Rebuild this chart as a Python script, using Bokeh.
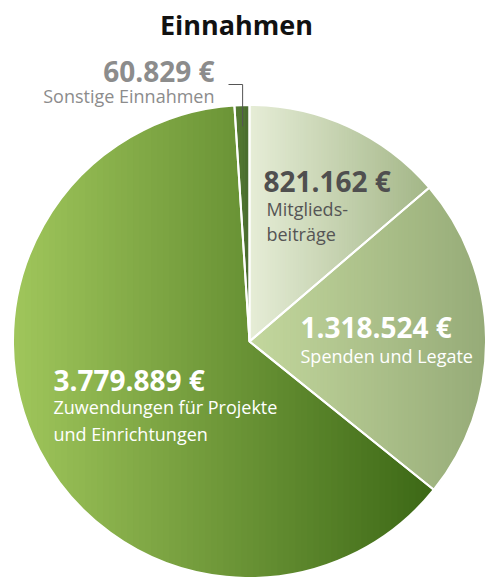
import numpy as np
from bokeh.plotting import figure
from bokeh.models import Range1d, Label
from bokeh.embed import file_html
from bokeh.resources import INLINE

# ---- data ----
title = "Einnahmen"
categories = ["Mitglieds-\nbeiträge", "Spenden und Legate",
              "Zuwendungen für Projekte\nund Einrichtungen", "Sonstige Einnahmen"]
values = [821162, 1318524, 3779889, 60829]
value_labels = ["821.162 €", "1.318.524 €", "3.779.889 €", "60.829 €"]
grad_left = ["#e6edd7", "#c3d79d", "#a0c65c", "#3d6a14"]
grad_right = ["#a3b687", "#96ab78", "#3c6815", "#2a510c"]

# ---- layout ----
W, H = 485, 577
R = 236.5            # pixels per data unit (pie radius = 1)
CX, CY = 249, 341    # pie centre in plot pixels
FONT = "Open Sans"
TY = -9              # text vertical adjustment

p = figure(width=W, height=H, output_backend="svg", toolbar_location=None,
           x_range=Range1d(-CX / R, (W - CX) / R),
           y_range=Range1d(-(H - CY) / R, CY / R),
           x_axis_location=None, y_axis_location=None,
           min_border=0, outline_line_color=None)
p.grid.visible = False


def pg(px, py):
    """picture pixel -> data coords"""
    return (px - CX) / R, (CY - py) / R


def hex2rgb(h):
    h = h.lstrip("#")
    return np.array([int(h[i:i + 2], 16) for i in (0, 2, 4)], dtype=float)


def mix(a, b, t):
    c = hex2rgb(a) * (1 - t) + hex2rgb(b) * t
    return "#%02x%02x%02x" % tuple(int(round(v)) for v in c)


def clip(poly, c, keep_greater):
    out = []
    n = len(poly)
    def keep(pt):
        return pt[0] >= c if keep_greater else pt[0] <= c
    def inter(a, b):
        t = (c - a[0]) / (b[0] - a[0])
        return (c, a[1] + t * (b[1] - a[1]))
    for j in range(n):
        cur, prev = poly[j], poly[j - 1]
        if keep(cur):
            if not keep(prev):
                out.append(inter(prev, cur))
            out.append(cur)
        elif keep(prev):
            out.append(inter(prev, cur))
    return out


total = float(sum(values))
frac = np.array(values) / total
cum = np.concatenate([[0.0], np.cumsum(frac)])
theta_hi = np.pi / 2 - 2 * np.pi * cum[:-1]
theta_lo = np.pi / 2 - 2 * np.pi * cum[1:]

# gradient-filled slices (vertical strips of each wedge)
xs_all, ys_all, cols = [], [], []
for i in range(len(values)):
    arc = np.linspace(theta_lo[i], theta_hi[i], 400)
    poly = [(0.0, 0.0)] + list(zip(np.cos(arc), np.sin(arc)))
    px_ = [q[0] for q in poly]
    x0, x1 = min(px_), max(px_)
    n = 70
    edges = np.linspace(x0, x1, n + 1)
    ov = (x1 - x0) / n * 0.6
    for k in range(n):
        part = clip(poly, edges[k], True)
        part = clip(part, edges[k + 1] + ov, False) if part else part
        if len(part) < 3:
            continue
        xs_all.append([q[0] for q in part])
        ys_all.append([q[1] for q in part])
        cols.append(mix(grad_left[i], grad_right[i], (k + 0.5) / n))

p.patches(xs_all, ys_all, fill_color=cols, line_color=None)

# slice outlines
p.wedge(x=0, y=0, radius=1, start_angle=list(theta_lo), end_angle=list(theta_hi),
        fill_color=None, line_color="white", line_width=2)

# leader line for the small slice
mid = (theta_lo[3] + theta_hi[3]) / 2
lx, ly = 0.91 * np.cos(mid), 0.91 * np.sin(mid)
hx, hy = pg(228, 84)
p.line([lx, lx, hx], [ly, hy, hy], line_color="#555555", line_width=1)


def lab(px, py, text, size, color, bold=False, align="left"):
    x, y = pg(px, py + TY)
    p.add_layout(Label(x=x, y=y, text=text, text_font=FONT, text_font_size=size,
                       text_color=color, text_font_style="bold" if bold else "normal",
                       text_align=align, text_baseline="alphabetic"))


lab(236, 33, title, "27px", "#111111", bold=True, align="center")

# Sonstige
lab(214, 79, value_labels[3], "28px", "#8c8c8c", bold=True, align="right")
lab(214, 104, categories[3], "18px", "#8c8c8c", align="right")

# Mitglieder
lab(263, 189, value_labels[0], "28px", "#4f4f4f", bold=True)
for j, t in enumerate(categories[0].split("\n")):
    lab(266, 217 + 25 * j, t, "18px", "#555555")

# Spenden
lab(300, 335, value_labels[1], "28px", "white", bold=True)
lab(300, 364, categories[1], "18px", "white")

# Zuwendungen
lab(53, 388, value_labels[2], "28px", "white", bold=True)
for j, t in enumerate(categories[2].split("\n")):
    lab(53, 415 + 27 * j, t, "18px", "white")

open("out.html", "w").write(file_html(p, INLINE))
